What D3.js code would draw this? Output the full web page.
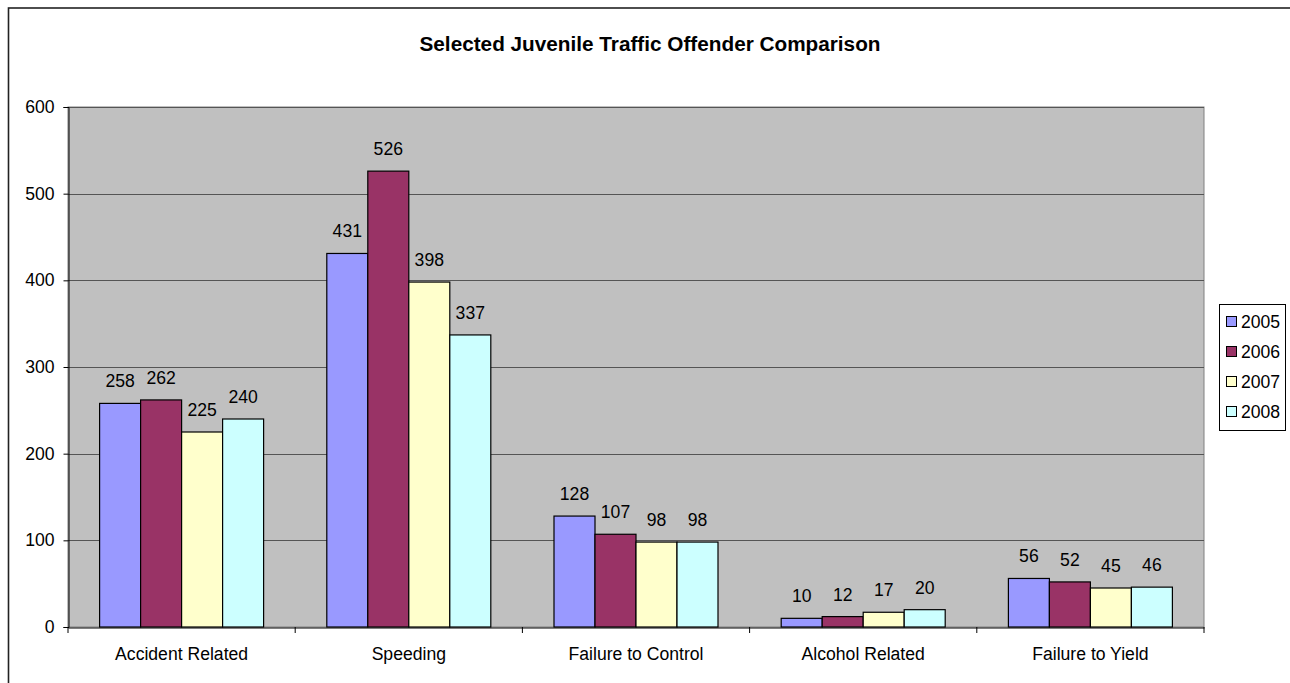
<!DOCTYPE html>
<html><head><meta charset="utf-8">
<script src="https://cdn.jsdelivr.net/npm/d3@7"></script>
<style>body{margin:0;background:#fff;} svg{display:block;font-family:"Liberation Sans",Arial,sans-serif;}</style>
</head><body>
<svg id="c" width="1290" height="683"></svg>
<script>
const categories = ["Accident Related","Speeding","Failure to Control","Alcohol Related","Failure to Yield"];
const seriesNames = ["2005","2006","2007","2008"];
const v2005 = [258,431,128,10,56];
const v2006 = [262,526,107,12,52];
const v2007 = [225,398,98,17,45];
const v2008 = [240,337,98,20,46];
const yTicks = [0,100,200,300,400,500,600];
const colors = ["#9999ff","#993366","#ffffcc","#ccffff"];
const seriesValues = [v2005,v2006,v2007,v2008];

const svg = d3.select("#c");
const L=68, R=1204, T=107, B=627;
const FS = 17.6;

svg.append("rect").attr("x",8.5).attr("y",8).attr("width",1300).attr("height",700)
  .attr("fill","#fff").attr("stroke","#222").attr("stroke-width",1.6);

svg.append("text").attr("x",650).attr("y",51).attr("text-anchor","middle")
  .attr("font-weight","bold").attr("font-size",20).attr("textLength",461).attr("lengthAdjust","spacingAndGlyphs")
  .text("Selected Juvenile Traffic Offender Comparison");

const x0 = d3.scaleBand().domain(categories).range([L,R]).paddingInner(0).paddingOuter(0);
const x1 = d3.scaleBand().domain(seriesNames).range([31.6, x0.bandwidth()-31.6]);
const y = d3.scaleLinear().domain([0,600]).range([B,T]);

svg.append("rect").attr("x",L).attr("y",T).attr("width",R-L).attr("height",B-T)
  .attr("fill","#c0c0c0").attr("stroke","#808080");

svg.append("g").selectAll("line").data(yTicks.filter(d=>d>0)).join("line")
  .attr("x1",L).attr("x2",R).attr("y1",d=>Math.round(y(d))+0.5).attr("y2",d=>Math.round(y(d))+0.5)
  .attr("stroke","#555").attr("stroke-width",1);

const g = svg.append("g");
categories.forEach((c,ci)=>{
  seriesNames.forEach((s,si)=>{
    const val = seriesValues[si][ci];
    const bx = x0(c)+x1(s);
    g.append("rect").attr("x",bx).attr("y",y(val)).attr("width",x1.bandwidth()).attr("height",B-y(val))
      .attr("fill",colors[si]).attr("stroke","#000").attr("stroke-width",1.2);
    g.append("text").attr("x",bx+x1.bandwidth()/2).attr("y",y(val)-16).attr("text-anchor","middle")
      .attr("font-size",FS).text(val);
  });
});

const yAxis = svg.append("g").attr("transform",`translate(${L+0.5},0)`)
  .call(d3.axisLeft(y).tickValues(yTicks).tickSize(5).tickPadding(9));
yAxis.select(".domain").attr("stroke","#000");
yAxis.selectAll("text").attr("font-size",FS).attr("font-family","Liberation Sans, Arial").attr("fill","#000");

const xAxis = svg.append("g").attr("transform",`translate(0,${B+0.5})`)
  .call(d3.axisBottom(x0).tickSize(0).tickPadding(20));
xAxis.select(".domain").attr("stroke","#000");
xAxis.selectAll("text").attr("font-size",FS).attr("font-family","Liberation Sans, Arial").attr("fill","#000");
svg.append("g").selectAll("line").data(d3.range(categories.length+1)).join("line")
  .attr("x1",i=>L+i*x0.bandwidth()).attr("x2",i=>L+i*x0.bandwidth())
  .attr("y1",B).attr("y2",B+6).attr("stroke","#000");

const leg = svg.append("g");
leg.append("rect").attr("x",1219.5).attr("y",304.5).attr("width",66).attr("height",126)
  .attr("fill","#fff").attr("stroke","#000");
seriesNames.forEach((s,i)=>{
  const cy = 322 + i*30;
  leg.append("rect").attr("x",1226.5).attr("y",cy-5.5).attr("width",10).attr("height",10)
    .attr("fill",colors[i]).attr("stroke","#000");
  leg.append("text").attr("x",1241).attr("y",cy+6).attr("font-size",FS).text(s);
});
</script>
</body></html>
